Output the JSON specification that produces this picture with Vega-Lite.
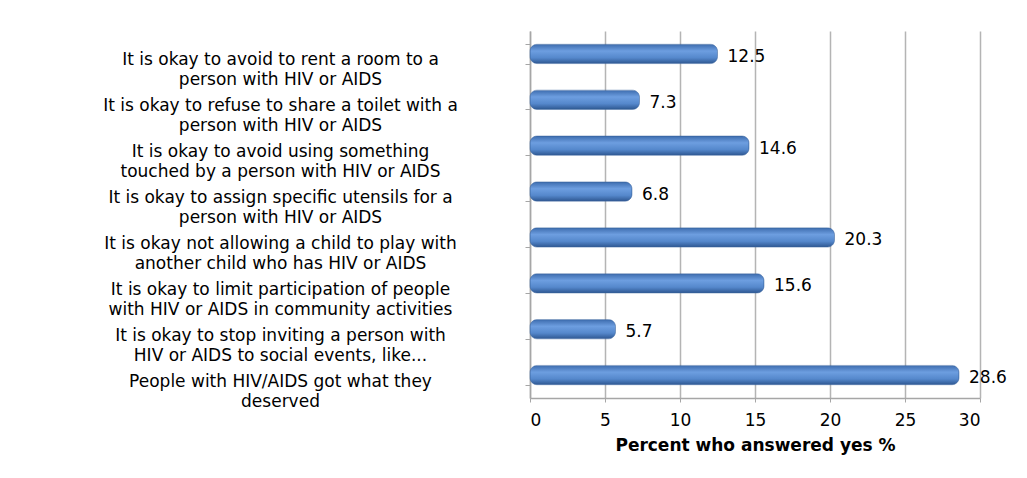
{
  "$schema": "https://vega.github.io/schema/vega-lite/v6.json",
  "width": 450,
  "height": 367,
  "autosize": "none",
  "padding": {"left": 530, "top": 31, "right": 47, "bottom": 80},
  "background": "white",
  "data": {
    "values": [
      {"item": "It is okay to avoid to rent a room to a|person with HIV or AIDS", "pct": 12.5, "order": 1},
      {"item": "It is okay to refuse to share a toilet with a|person with HIV or AIDS", "pct": 7.3, "order": 2},
      {"item": "It is okay to avoid using something|touched by a person with HIV or AIDS", "pct": 14.6, "order": 3},
      {"item": "It is okay to assign specific utensils for a|person with HIV or AIDS", "pct": 6.8, "order": 4},
      {"item": "It is okay not allowing a child to play with|another child who has HIV or AIDS", "pct": 20.3, "order": 5},
      {"item": "It is okay to limit participation of people|with HIV or AIDS in community activities", "pct": 15.6, "order": 6},
      {"item": "It is okay to stop inviting a person with|HIV or AIDS to social events, like...", "pct": 5.7, "order": 7},
      {"item": "People with HIV/AIDS got what they|deserved", "pct": 28.6, "order": 8}
    ]
  },
  "config": {
    "view": {"stroke": null},
    "font": "DejaVu Sans",
    "axis": {"labelColor": "#000000", "titleColor": "#000000", "domainColor": "#a6a6a6", "tickColor": "#a6a6a6", "gridColor": "#b4b4b4"}
  },
  "encoding": {
    "y": {
      "field": "item",
      "type": "nominal",
      "sort": {"field": "order"},
      "scale": {"paddingInner": 0.58, "paddingOuter": 0.29},
      "axis": {
        "title": null,
        "labelExpr": "split(datum.label, '|')",
        "labelFontSize": 17,
        "labelLineHeight": 20,
        "labelAlign": "center",
        "labelPadding": 245,
        "labelOffset": 6,
        "labelLimit": 520,
        "tickBand": "extent",
        "tickSize": 5,
        "domainWidth": 1.5,
        "grid": false
      }
    },
    "x": {
      "field": "pct",
      "type": "quantitative",
      "scale": {"domain": [0, 30]},
      "axis": {
        "title": "Percent who answered yes %",
        "titleFontSize": 17,
        "titleFontWeight": "bold",
        "titlePadding": 9,
        "values": [0, 5, 10, 15, 20, 25, 30],
        "labelFontSize": 17,
        "labelPadding": 10,
        "tickSize": 4,
        "domainWidth": 1.5,
        "grid": true,
        "gridWidth": 1.5
      }
    }
  },
  "layer": [
    {
      "mark": {
        "type": "bar",
        "cornerRadius": 7,
        "color": {
          "x1": 0, "y1": 0, "x2": 0, "y2": 1,
          "gradient": "linear",
          "stops": [
            {"offset": 0, "color": "#3d6cae"},
            {"offset": 0.35, "color": "#6d9ee0"},
            {"offset": 0.7, "color": "#5588cc"},
            {"offset": 1, "color": "#2e5791"}
          ]
        },
        "stroke": "#3a659f",
        "strokeWidth": 0.5
      }
    },
    {
      "mark": {"type": "text", "align": "left", "baseline": "middle", "dx": 10, "dy": 3, "fontSize": 17, "color": "#000000"},
      "encoding": {"text": {"field": "pct", "type": "quantitative", "format": ".1f"}}
    }
  ]
}
